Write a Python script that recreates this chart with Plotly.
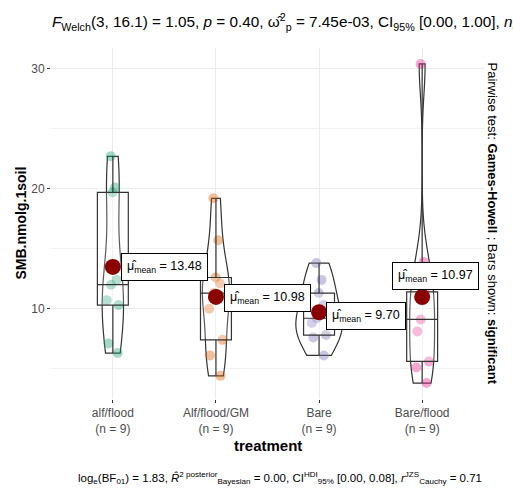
import numpy as np
import plotly.graph_objects as go

# ---------------- data ----------------
categories = ["alf/flood", "Alf/flood/GM", "Bare", "Bare/flood"]
alf_flood = [22.7, 20.1, 19.7, 12.4, 12.0, 10.7, 10.3, 7.1, 6.3]
alf_flood_gm = [19.2, 15.7, 12.6, 12.1, 11.3, 10.0, 7.4, 6.1, 4.4]
bare = [13.8, 12.4, 11.3, 10.3, 9.2, 8.8, 7.8, 7.6, 6.1]
bare_flood = [30.4, 13.9, 11.4, 11.3, 9.1, 8.1, 5.6, 5.1, 3.8]
series = [alf_flood, alf_flood_gm, bare, bare_flood]

y_title = "SMB.nmolg.1soil"
x_title = "treatment"

# ---------------- style ----------------
colors = ["rgba(27,158,119,0.4)", "rgba(217,95,2,0.4)", "rgba(117,112,179,0.4)", "rgba(231,41,138,0.4)"]
label_offsets = [(52, 0), (52, 1), (47, 4), (13, -21)]
FONT = "Liberation Sans, Arial, sans-serif"
W, H = 513, 493
ML, MR, MT, MB = 51, 29, 48, 94
PW, PH = W - ML - MR, H - MT - MB
VIOLIN_MAX_WIDTH = 0.45


def nrd0(v):
    v = np.asarray(v, float)
    q75, q25 = np.percentile(v, [75, 25])
    s = min(np.std(v, ddof=1), (q75 - q25) / 1.34)
    return 0.9 * s * len(v) ** (-0.2)


def max_density(v):
    v = np.asarray(v, float)
    bw = nrd0(v)
    grid = np.linspace(v.min(), v.max(), 512)
    dens = np.exp(-0.5 * ((grid[:, None] - v[None, :]) / bw) ** 2).sum(1) / (len(v) * bw * np.sqrt(2 * np.pi))
    return dens.max()


def px_x(p):
    return (p - ML) / PW


def px_y(p):
    return (H - MB - p) / PH


fig = go.Figure()

# jittered points
for cat, vals, col in zip(categories, series, colors):
    fig.add_trace(go.Box(
        x=[cat] * len(vals), y=vals, boxpoints="all", jitter=0.6, pointpos=0,
        width=0.3, fillcolor="rgba(0,0,0,0)", line=dict(color="rgba(0,0,0,0)", width=0),
        marker=dict(color=col, size=10, line=dict(width=0)), showlegend=False,
        hoverinfo="skip"))

# boxes
for cat, vals in zip(categories, series):
    fig.add_trace(go.Box(
        x=[cat] * len(vals), y=vals, boxpoints=False, width=0.3,
        quartilemethod="inclusive", whiskerwidth=0,
        fillcolor="rgba(255,255,255,0.2)", line=dict(color="#333333", width=1.2),
        showlegend=False, hoverinfo="skip"))

# violins, scaled by area (common density scale, like ggplot scale="area")
dmax = [max_density(v) for v in series]
gmax = max(dmax)
for cat, vals, d in zip(categories, series, dmax):
    fig.add_trace(go.Violin(
        x=[cat] * len(vals), y=vals, width=VIOLIN_MAX_WIDTH * d / gmax,
        scalegroup=cat, scalemode="width",
        spanmode="hard", bandwidth=nrd0(vals), points=False,
        box_visible=False, meanline_visible=False,
        fillcolor="rgba(255,255,255,0.2)", line=dict(color="#333333", width=1.2),
        showlegend=False, hoverinfo="skip"))

means = [float(np.mean(v)) for v in series]
fig.add_trace(go.Scatter(
    x=categories, y=means, mode="markers",
    marker=dict(color="#8B0000", size=16), showlegend=False, hoverinfo="skip"))

for cat, m, (ax, ay) in zip(categories, means, label_offsets):
    fig.add_annotation(
        x=cat, y=m, xref="x", yref="y",
        text="μ̂<sub>mean</sub> = %.2f" % m,
        showarrow=True, arrowhead=0, arrowwidth=1, arrowcolor="#444444",
        ax=ax, ay=ay, standoff=7,
        bgcolor="white", bordercolor="black", borderwidth=1, borderpad=5,
        font=dict(family=FONT, size=12.5, color="black"))

all_vals = np.concatenate(series)
lo, hi = all_vals.min(), all_vals.max()
pad = 0.05 * (hi - lo)

ticktext = ["%s<br>(n = %d)" % (c, len(v)) for c, v in zip(categories, series)]

fig.update_layout(
    width=W, height=H, margin=dict(l=ML, r=MR, t=MT, b=MB, autoexpand=False),
    paper_bgcolor="white", plot_bgcolor="white",
    boxmode="overlay", violinmode="overlay",
    font=dict(family=FONT, size=12, color="#4D4D4D"),
    title=dict(
        text="<i>F</i><sub>Welch</sub>(3, 16.1) = 1.05, <i>p</i> = 0.40, ω̂<sup>2</sup><sub>p</sub> = 7.45e-03, "
             "CI<sub>95%</sub> [0.00, 1.00], <i>n</i><sub>obs</sub> = 36",
        x=52 / W, xanchor="left", y=1 - 22 / H, yanchor="middle",
        font=dict(family=FONT, size=15.3, color="black")),
    xaxis=dict(
        type="category", categoryorder="array", categoryarray=categories,
        range=[-0.6, len(categories) - 0.4],
        tickmode="array", tickvals=categories, ticktext=ticktext,
        ticks="outside", ticklen=3, tickcolor="#333333", tickwidth=1,
        showgrid=True, gridcolor="#EBEBEB", gridwidth=1.2, zeroline=False,
        showline=False, tickfont=dict(size=12, color="#4D4D4D")),
    yaxis=dict(
        range=[lo - pad, hi + pad], tick0=0, dtick=10,
        ticks="outside", ticklen=3, tickcolor="#333333", tickwidth=1,
        showgrid=True, gridcolor="#EBEBEB", gridwidth=1.2, zeroline=False,
        showline=False, tickfont=dict(size=12, color="#4D4D4D"),
        minor=dict(dtick=5, tick0=0, showgrid=True, gridcolor="#F2F2F2", gridwidth=1)),
)

fig.add_annotation(
    x=px_x(20), y=0.5, xref="paper", yref="paper", xanchor="center", yanchor="middle",
    text="<b>%s</b>" % y_title,
    textangle=-90, showarrow=False, font=dict(family=FONT, size=14, color="black"))
fig.add_annotation(
    x=0.5, y=px_y(445), xref="paper", yref="paper", xanchor="center", yanchor="middle",
    text="<b>%s</b>" % x_title,
    showarrow=False, font=dict(family=FONT, size=15, color="black"))
fig.add_annotation(
    x=px_x(492), y=0.5, xref="paper", yref="paper", xanchor="center", yanchor="middle",
    text="Pairwise test: <b>Games-Howell</b> ; Bars shown: <b>significant</b>",
    textangle=90, showarrow=False, font=dict(family=FONT, size=13, color="black"))

fig.add_annotation(
    x=1, y=px_y(478), xref="paper", yref="paper", xanchor="right", yanchor="middle",
    text="log<sub>e</sub>(BF<sub>01</sub>) = 1.83, <i>R̂</i><sup>2 posterior</sup><sub>Bayesian</sub> = 0.00, "
         "CI<sup>HDI</sup><sub>95%</sub> [0.00, 0.08], <i>r</i><sup>JZS</sup><sub>Cauchy</sub> = 0.71",
    showarrow=False, font=dict(family=FONT, size=11.5, color="black"))

fig.write_html("out.html")
